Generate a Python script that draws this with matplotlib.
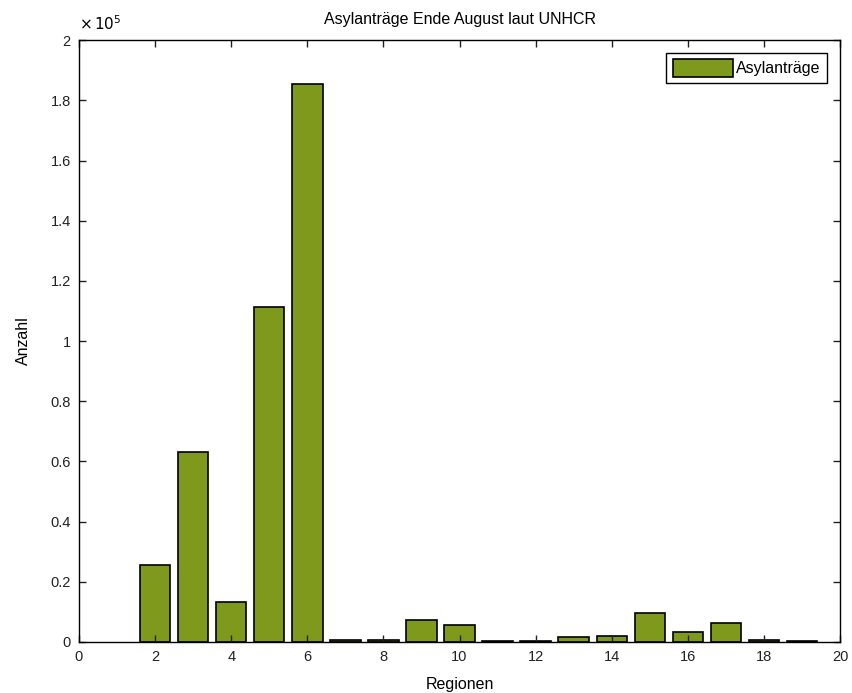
import matplotlib
matplotlib.use("Agg")
import matplotlib.pyplot as plt
from matplotlib.ticker import FuncFormatter, MultipleLocator

regions = [2, 3, 4, 5, 6, 7, 8, 9, 10, 11, 12, 13, 14, 15, 16, 17, 18, 19]
asylum = [25500, 63000, 13200, 111300, 185300, 500, 500, 7400, 5700, 400,
          400, 1600, 2100, 9700, 3300, 6300, 500, 400]

plt.rcParams['font.family'] = ['Liberation Sans', 'DejaVu Sans']
fig = plt.figure(figsize=(8.52, 6.93), dpi=100)
ax = fig.add_axes([0.0927, 0.0736, 0.8933, 0.8684])

ax.bar(regions, asylum, width=0.8, color='#7f991c', edgecolor='black',
       linewidth=1.2, label='Asylanträge')
ax.set_xlim(0, 20)
ax.set_ylim(0, 2e5)
ax.xaxis.set_major_locator(MultipleLocator(2))
ax.yaxis.set_major_locator(MultipleLocator(2e4))
ax.yaxis.set_major_formatter(FuncFormatter(lambda v, p: f"{v/1e5:g}"))
ax.tick_params(direction='in', top=True, right=True, labelsize=10.5,
               length=5, width=1, colors='#222222', pad=6)
for s in ax.spines.values():
    s.set_linewidth(1.0)

ax.text(0.0, 1.012, r'$\times\,10^{5}$', transform=ax.transAxes,
        fontsize=11, ha='left', va='bottom')
ax.set_title('Asylanträge Ende August laut UNHCR', fontsize=11.5, pad=12)
ax.set_xlabel('Regionen', fontsize=11.5, labelpad=9)
ax.set_ylabel('Anzahl', fontsize=11.5, labelpad=14)
leg = ax.legend(loc='upper right', fontsize=11.5, fancybox=False,
                edgecolor='black', framealpha=1, handlelength=3.8,
                handleheight=1.3, handletextpad=0.2, borderaxespad=0.8)
leg.get_frame().set_linewidth(1.0)

fig.savefig('out.png', dpi=100)
